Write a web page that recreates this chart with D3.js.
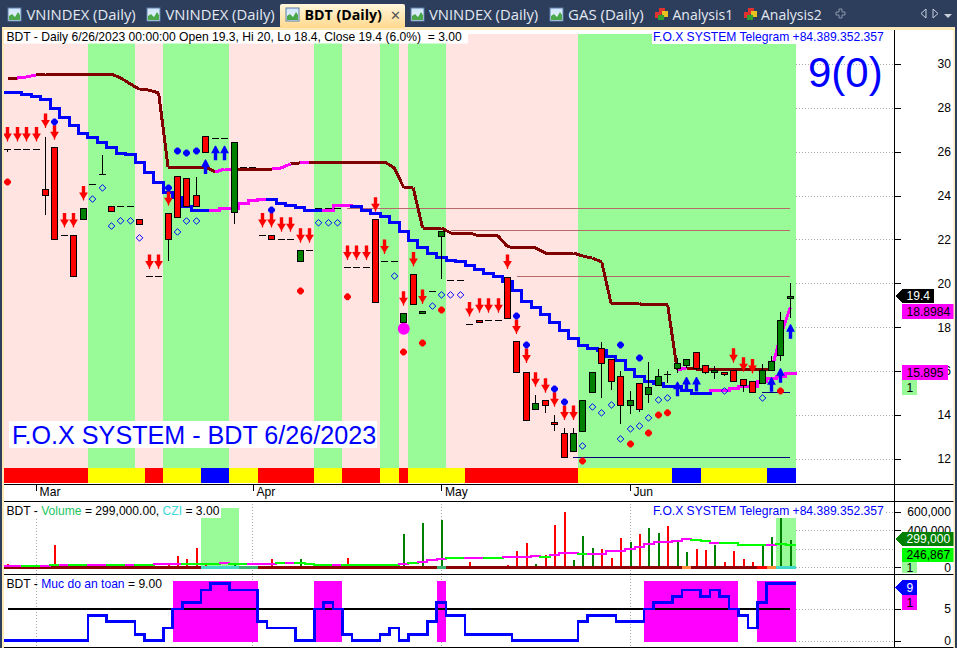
<!DOCTYPE html>
<html>
<head>
<meta charset="utf-8">
<script src="https://cdn.jsdelivr.net/npm/d3@7/dist/d3.min.js"></script>
<style>
html,body{margin:0;padding:0;background:#fff;overflow:hidden}
svg{display:block}
text{font-family:"Liberation Sans",Arial,sans-serif;white-space:pre}
</style>
</head>
<body>
<svg id="c" width="957" height="648"></svg>
<script>
const opens=[26.12,26.12,26.12,26.12,24.28,26.2,22.19,22.19,22.92,24.51,25.0,23.51,23.51,23.51,22.92,20.32,20.32,23.19,24.88,24.79,24.01,26.7,26.61,26.61,23.28,25.29,25.29,22.19,22.19,22.0,22.0,20.98,21.5,23.42,23.42,23.42,20.73,20.73,20.73,22.92,21.0,21.0,18.2,20.41,18.61,19.64,22.19,20.14,20.14,18.13,18.31,18.31,18.31,20.3,17.35,15.94,14.25,14.66,13.66,13.16,12.32,13.23,15.01,17.03,16.53,15.76,14.42,15.44,14.92,15.33,15.86,16.11,16.24,16.85,16.26,15.92,15.94,16.03,15.62,15.53,15.42,16.01,16.7,19.3];
const closes=[26.12,26.12,26.12,26.12,24.01,22.0,22.19,20.32,23.42,24.51,25.0,23.28,23.51,23.51,22.69,20.32,20.32,22.0,23.01,23.51,23.51,25.97,26.61,26.61,26.46,25.29,25.29,22.19,22.0,22.0,22.0,21.5,21.5,23.42,23.42,23.42,20.73,20.73,20.73,19.12,21.0,21.0,18.63,19.02,18.72,19.64,22.4,20.14,20.14,18.13,18.22,18.31,18.31,18.45,15.92,13.75,14.53,14.44,13.57,12.05,13.16,14.66,15.94,16.33,15.51,14.42,14.66,14.24,15.26,15.76,15.85,16.35,16.53,16.11,15.92,16.03,15.85,15.51,15.33,15.01,16.03,16.44,18.31,19.4];
const highs=[26.12,26.12,26.12,26.12,26.68,26.2,22.19,22.19,23.42,24.51,25.85,23.51,23.51,23.51,22.92,20.32,20.32,23.19,24.88,24.79,24.86,26.7,26.61,26.61,26.46,25.29,25.29,22.19,22.19,22.0,22.0,21.5,21.5,23.42,23.42,23.42,20.73,20.73,20.73,22.92,21.0,21.0,18.63,20.41,18.72,19.64,22.4,20.14,20.14,18.13,18.31,18.31,18.31,20.3,17.35,15.94,14.91,14.66,13.99,13.4,13.4,14.66,15.94,17.31,16.53,16.0,15.09,15.44,16.4,16.09,16.0,16.58,16.53,16.85,16.26,16.23,15.94,16.03,15.62,15.53,16.32,16.67,18.68,20.0];
const lows=[26.0,26.12,26.12,26.12,23.11,22.0,22.19,20.32,22.92,24.51,25.0,23.28,23.51,23.51,22.69,20.32,20.32,21.03,23.01,23.51,23.51,25.97,26.61,26.61,22.72,25.29,25.29,22.19,22.0,22.0,22.0,20.98,21.5,23.42,23.42,23.42,20.73,20.73,20.73,19.12,21.0,21.0,18.2,19.02,18.61,19.64,20.18,20.14,20.14,18.13,18.22,18.31,18.31,18.45,15.92,13.75,14.25,14.07,13.28,12.05,12.32,13.23,15.01,14.78,15.13,13.6,14.04,14.15,14.54,15.33,15.44,15.9,16.14,16.05,15.85,15.63,15.78,15.51,15.06,15.01,15.42,16.01,16.47,18.4];
const upperLine=[29.36,29.36,29.41,29.50,29.54,29.54,29.54,29.54,29.54,29.54,29.54,29.54,29.36,29.09,28.84,28.81,28.68,25.30,25.30,25.30,25.30,25.30,25.07,25.21,25.21,25.21,25.21,25.21,25.21,25.26,25.44,25.49,25.53,25.53,25.53,25.53,25.53,25.53,25.53,25.53,25.53,25.26,24.36,24.36,22.52,22.52,22.52,22.29,22.29,22.29,22.16,22.16,22.16,21.67,21.61,21.61,21.61,21.38,21.38,21.38,21.38,21.24,21.15,20.97,19.06,19.06,19.06,19.06,19.01,19.01,19.01,16.05,16.14,16.09,16.09,16.09,16.09,16.09,16.09,16.09,16.09,16.05,17.64,18.8984];
const upperMagenta=[1,2,22,23,28,29,31,71,81,82];
const lowerLine=[28.72,28.72,28.63,28.51,28.36,27.99,27.54,27.19,26.85,26.67,26.40,26.17,25.94,25.86,25.53,25.07,24.59,24.12,23.89,23.48,23.31,23.31,23.31,23.39,23.43,23.62,23.77,23.84,23.81,23.66,23.54,23.45,23.34,23.34,23.34,23.54,23.54,23.49,23.34,23.16,23.04,22.76,22.38,21.97,21.61,21.34,21.17,21.06,20.99,20.79,20.64,20.44,20.30,20.07,19.66,19.16,18.89,18.57,18.19,17.84,17.47,17.14,17.02,16.93,16.68,16.47,16.05,15.77,15.50,15.44,15.28,15.28,15.10,14.97,14.97,15.10,15.10,15.19,15.28,15.28,15.50,15.68,15.74,15.895];
const lowerMagenta=[22,23,24,25,26,27,34,35,36,75,76,77,78,79,80,81,82,83];
const redArrowBars=[0,1,2,3,4,5,6,7,8,15,16,17,27,28,29,30,31,32,36,37,38,39,40,42,43,44,49,50,51,52,53,54,55,56,57,58,59,60,77,78,79];
const redArrowPrices=[26.46,26.46,26.46,26.46,27.08,26.55,22.54,22.54,23.77,20.65,20.65,23.54,22.54,22.54,22.35,22.35,21.85,21.85,21.06,21.06,21.06,23.26,21.34,18.98,20.76,19.06,18.48,18.66,18.66,18.66,20.65,17.69,16.37,15.28,15.01,14.37,13.77,13.77,16.38,15.97,15.88];
const blueArrowBars=[21,22,23,71,72,73,81,82,83];
const blueArrowPrices=[25.65,26.27,26.27,15.51,15.73,15.73,15.71,16.12,18.13];
const redDiamondBars=[0,31,36,42,44,46,61,66,68,69,70,82];
const redDiamondPrices=[24.62,19.65,19.38,16.87,17.28,18.78,11.90,12.67,13.17,13.99,14.09,15.09];
const blueDiamondBars=[5,17,18,19,20,28,54,55,58,59,65,67];
const blueDiamondPrices=[27.36,24.35,26.03,25.94,26.03,23.34,18.51,17.19,15.18,14.59,17.19,16.59];
const hollowBars=[9,10,11,12,13,14,18,19,20,33,34,35,41,45,46,47,48,61,62,63,64,65,66,67,68,69,70,76,80];
const hollowPrices=[23.84,24.35,22.61,22.85,22.85,22.07,22.34,22.84,22.84,22.76,22.76,22.76,20.33,18.96,19.47,19.47,19.47,12.58,14.36,14.09,14.45,12.90,13.36,13.49,13.86,14.68,14.77,15.09,14.77];
const resistanceStart=[36,47,54];
const resistanceLevel=[23.42,22.40,20.32];
const supportStart=[60,80];
const supportLevel=[12.07,15.03];
const circleBar=42, circlePrice=17.93;
const greenBands=[[9,13],[17,23],[33,35],[40,41],[43,46],[61,83]];
const stripRuns=[[0,8,"r"],[9,14,"y"],[15,16,"r"],[17,20,"y"],[21,23,"b"],[24,26,"y"],[27,32,"r"],[33,35,"y"],[36,39,"r"],[40,41,"y"],[42,42,"r"],[43,48,"y"],[49,60,"r"],[61,70,"y"],[71,73,"b"],[74,80,"y"],[81,83,"b"]];
const volumes=[36,8,8,8,8,242,8,8,8,8,8,8,8,8,8,8,8,43,123,87,206,36,8,8,50,8,8,8,87,8,8,87,8,8,8,8,101,8,8,8,8,8,361,8,480,8,513,8,8,57,8,8,8,25,177,264,36,133,459,600,79,339,209,198,101,318,274,361,426,372,448,285,166,198,188,242,57,177,90,57,242,329,535,299];
const volumeUp=[24,31,42,44,46,56,60,61,62,66,68,69,71,72,75,80,81,82,83];
const volumeMA=[17,17,14,14,15,28,28,28,28,28,28,28,28,28,28,28,32,32,32,39,39,39,39,43,39,39,39,39,39,50,50,50,39,28,28,28,28,28,28,28,28,28,36,43,61,75,86,104,104,104,104,104,104,111,111,111,122,115,137,155,155,144,144,144,180,180,199,224,253,271,271,289,310,296,285,267,260,260,246,246,246,246,250,246.867];
const volumeMAMagenta=[0,1,4,6,9,10,13,16,17,18,23,26,27,28,30,35,42,44,45,46,49,50,53,54,55,56,58,59,60,62,63,64,65,66,67,68,69,70,71,72,75,81];
const cziRuns=[[0,20,"#8b0000"],[21,24,"#40d8c8"],[25,26,"#3cb371"],[27,45,"#8b0000"],[46,46,"#3cb371"],[47,71,"#8b0000"],[72,72,"#ff8c3c"],[73,79,"#8b0000"],[80,80,"#ff0000"],[81,81,"#ff8c3c"],[82,83,"#40d8c8"]];
const czHighlights=[[21,24,508],[82,83,518]];
const safety=[0,0,0,0,0,0,0,0,0,4,4,3,3,3,1,0,0,2,5,6,6,8,9,9,8,8,8,3,2,2,2,0,0,5,6,5,1,0,0,0,1,2,0,1,1,3,6,4,4,1,1,1,1,1,0,0,0,0,0,0,0,3,4,4,4,3,3,3,5,6,6,7,8,8,7,8,7,5,4,2,6,9,9,9];
const priceTicks=[12,14,16,18,20,22,24,26,28,30];
const volumeGrid=[0,200000,400000,600000];
const volumeTicks=[0,400000,600000];
const safetyTicks=[0,5];
const monthBars=[3,26,46,66];
const monthLabels=["Mar","Apr","May","Jun"];
const tabLabels=["VNINDEX (Daily)","VNINDEX (Daily)","BDT (Daily)","VNINDEX (Daily)","GAS (Daily)","Analysis1","Analysis2"];

const svg=d3.select("#c");
const x=d3.scaleLinear().domain([0,83]).range([7.8,790.3]);
const y=d3.scaleLinear().domain([30,12]).range([64,458.7]);
const vy=d3.scaleLinear().domain([0,600000]).range([567.3,512]);
const sy=d3.scaleLinear().domain([0,9]).range([640.7,583.6]);
const BLUE="#0000ff",MAG="#ff00ff",DRED="#800000",PG="#98fb98",PINK="#ffe4e1";
const crisp=g=>g.attr("shape-rendering","crispEdges");
const left=i=>Math.max(4,x(i-.5));
const right=i=>i===83?796:x(i+.5);
const cx=i=>Math.floor(x(i))+.5;

svg.append("rect").attr("width",957).attr("height",648).attr("fill","#fff");
const defs=svg.append("defs");
const tg=defs.append("linearGradient").attr("id","tabg").attr("x1",0).attr("x2",0).attr("y1",0).attr("y2",1);
tg.append("stop").attr("offset",0).attr("stop-color","#fff6dc");
tg.append("stop").attr("offset",1).attr("stop-color","#ffd98e");
const ig=defs.append("linearGradient").attr("id","icog").attr("x1",0).attr("x2",0).attr("y1",0).attr("y2",1);
ig.append("stop").attr("offset",0).attr("stop-color","#cfe4fb");
ig.append("stop").attr("offset",1).attr("stop-color","#eef6ff");

// price panel background
const bg=svg.append("g").call(crisp);
bg.append("rect").attr("x",4).attr("y",34).attr("width",792).attr("height",434).attr("fill",PINK);
bg.selectAll("rect.g").data(greenBands).join("rect").attr("class","g")
  .attr("x",d=>left(d[0])).attr("width",d=>right(d[1])-left(d[0])).attr("y",34).attr("height",434).attr("fill",PG);
const stripCol={r:"#ff0000",y:"#ffff00",b:"#0000ff"};
bg.selectAll("rect.s").data(stripRuns).join("rect").attr("class","s")
  .attr("x",d=>left(d[0])).attr("width",d=>right(d[1])-left(d[0])).attr("y",468).attr("height",15).attr("fill",d=>stripCol[d[2]]);

// gridlines
const grid=svg.append("g").attr("stroke","#aaa").attr("stroke-dasharray","1,2").call(crisp);
grid.selectAll("line.p").data(priceTicks).join("line").attr("class","p").attr("x1",796).attr("x2",894).attr("y1",d=>Math.round(y(d))+.5).attr("y2",d=>Math.round(y(d))+.5);
grid.selectAll("line.v2").data(volumeGrid).join("line").attr("class","v2").attr("x1",796).attr("x2",894).attr("y1",d=>Math.round(vy(d))+.5).attr("y2",d=>Math.round(vy(d))+.5);
grid.selectAll("line.s").data(safetyTicks).join("line").attr("class","s").attr("x1",796).attr("x2",894).attr("y1",d=>Math.round(sy(d))+.5).attr("y2",d=>Math.round(sy(d))+.5);
grid.selectAll("line.m").data(monthBars).join("line").attr("class","m").attr("x1",cx).attr("x2",cx).attr("y1",501).attr("y2",647);

// resistance / support
const lv=svg.append("g").call(crisp);
lv.selectAll("line.r").data(resistanceLevel).join("line").attr("class","r")
 .attr("x1",(d,i)=>x(resistanceStart[i])).attr("x2",x(83)).attr("y1",d=>y(d)).attr("y2",d=>y(d)).attr("stroke","#b86a6a");
lv.selectAll("line.n").data(supportLevel).join("line").attr("class","n")
 .attr("x1",(d,i)=>x(supportStart[i])).attr("x2",x(83)).attr("y1",d=>y(d)).attr("y2",d=>y(d)).attr("stroke","#000080");

// overlay lines
const lin=d3.line().x(d=>x(d[0])).y(d=>d[2](d[1]));
function stepSeries(parent,vals,colorOf,scale,w){
  const g=parent.append("g").attr("fill","none").attr("stroke-width",w).attr("stroke-linecap","square").call(crisp);
  vals.forEach((v,i)=>{
    const pts=[[i-.5,v,scale],[i+.5,v,scale]];
    if(i<vals.length-1)pts.push([i+.5,vals[i+1],scale]);
    g.append("path").attr("d",lin(pts)).attr("stroke",colorOf(i));
  });
}
const upG=svg.append("g").attr("fill","none").attr("stroke-width",3).call(crisp);
upperLine.forEach((v,i)=>{
  if(i===83)return;
  upG.append("path").attr("d",lin([[i,v,y],[i+1,upperLine[i+1],y]])).attr("stroke",upperMagenta.includes(i)?MAG:DRED);
});
stepSeries(svg,lowerLine,i=>lowerMagenta.includes(i)?MAG:BLUE,y,3);

// candles
const cg=svg.append("g").call(crisp);
d3.range(opens.length).forEach(i=>{
  const X=Math.floor(x(i));
  const top=Math.max(opens[i],closes[i]),bot=Math.min(opens[i],closes[i]);
  if(highs[i]>lows[i]) cg.append("line").attr("x1",X+.5).attr("x2",X+.5).attr("y1",y(highs[i])).attr("y2",y(lows[i])).attr("stroke","#000");
  const h=y(bot)-y(top);
  if(h<1){
    cg.append("line").attr("x1",X-3).attr("x2",X+4).attr("y1",Math.round(y(top))+.5).attr("y2",Math.round(y(top))+.5).attr("stroke","#000");
  }else{
    cg.append("rect").attr("x",X-2.5).attr("width",6).attr("y",Math.round(y(top))+.5).attr("height",Math.round(h))
      .attr("fill",closes[i]>opens[i]?"#008000":"#ff0000").attr("stroke","#000");
  }
});

// markers
const mk=svg.append("g");
const arrowDown=(X,Y)=>`M${X-1.7},${Y-14.5}L${X+1.7},${Y-14.5}L${X+1.7},${Y-8}L${X+4.4},${Y-8}L${X+.8},${Y-2}L${X+.5},${Y}L${X-.5},${Y}L${X-.8},${Y-2}L${X-4.4},${Y-8}L${X-1.7},${Y-8}Z`;
const arrowUp=(X,Y)=>`M${X-1.7},${Y+14.5}L${X+1.7},${Y+14.5}L${X+1.7},${Y+7.5}L${X+4.4},${Y+7.5}L${X+.5},${Y}L${X-.5},${Y}L${X-4.4},${Y+7.5}L${X-1.7},${Y+7.5}Z`;
const blob=(X,Y,r)=>{const s=r*.28;return `M${X-s},${Y-r}L${X+s},${Y-r}L${X+r},${Y-s}L${X+r},${Y+s}L${X+s},${Y+r}L${X-s},${Y+r}L${X-r},${Y+s}L${X-r},${Y-s}Z`;};
const dia=(X,Y,r)=>`M${X},${Y-r}L${X+r},${Y}L${X},${Y+r}L${X-r},${Y}Z`;
mk.selectAll("path.ra").data(redArrowBars).join("path").attr("class","ra")
  .attr("d",(d,i)=>arrowDown(cx(d),y(redArrowPrices[i]))).attr("fill","#ff0000");
mk.selectAll("path.ba").data(blueArrowBars).join("path").attr("class","ba")
  .attr("d",(d,i)=>arrowUp(cx(d),y(blueArrowPrices[i]))).attr("fill",BLUE);
mk.selectAll("path.rd").data(redDiamondBars).join("path").attr("class","rd")
  .attr("d",(d,i)=>blob(cx(d),y(redDiamondPrices[i]),3.5)).attr("fill","#ff0000");
mk.selectAll("path.bd").data(blueDiamondBars).join("path").attr("class","bd")
  .attr("d",(d,i)=>blob(cx(d),y(blueDiamondPrices[i]),3.5)).attr("fill",BLUE);
mk.selectAll("path.hd").data(hollowBars).join("path").attr("class","hd")
  .attr("d",(d,i)=>dia(cx(d),y(hollowPrices[i]),3.3)).attr("fill","none").attr("stroke",BLUE).attr("stroke-width",1);
mk.append("circle").attr("cx",x(circleBar)).attr("cy",y(circlePrice)).attr("r",6).attr("fill",MAG);

// volume panel
const vp=svg.append("g").call(crisp);
vp.selectAll("rect.h").data(czHighlights).join("rect").attr("class","h")
 .attr("x",d=>left(d[0])).attr("width",d=>right(d[1])-left(d[0])).attr("y",d=>d[2]).attr("height",d=>566-d[2]).attr("fill",PG);
vp.selectAll("rect.vb").data(volumes).join("rect").attr("class","vb")
 .attr("x",(d,i)=>cx(i)-.5).attr("width",2).attr("y",d=>vy(d*1000)).attr("height",d=>vy(0)-vy(d*1000))
 .attr("fill",(d,i)=>volumeUp.includes(i)?"#008000":"#ff0000");
vp.selectAll("rect.cz").data(cziRuns).join("rect").attr("class","cz")
 .attr("x",d=>left(d[0])).attr("width",d=>right(d[1])-left(d[0])).attr("y",566).attr("height",3.4).attr("fill",d=>d[2]);
stepSeries(vp,volumeMA.map(d=>d*1000),i=>volumeMAMagenta.includes(i)?MAG:"#00ff00",vy,2);

// safety panel
const sp=svg.append("g").call(crisp);
sp.selectAll("rect").data(safety).join("rect").attr("x",(d,i)=>left(i)).attr("width",(d,i)=>right(i)-left(i)).attr("y",581).attr("height",60.7)
 .attr("fill",MAG).attr("opacity",d=>d>=5?1:0);
sp.append("line").attr("x1",x(0)).attr("x2",x(83)).attr("y1",sy(5)).attr("y2",sy(5)).attr("stroke","#000").attr("stroke-width",2);
stepSeries(sp,safety,()=>BLUE,sy,2.6);

// texts on panels
function rt(s,X,Y,o={}){
  const t=svg.append("text").attr("x",X).attr("y",Y).attr("font-size",o.size||12.1).attr("fill",o.fill||"#000").text(s);
  if(o.anchor)t.attr("text-anchor",o.anchor);
  return t;
}
svg.append("rect").attr("x",4).attr("y",30).attr("width",464).attr("height",13.5).attr("fill","#fff");
rt("BDT - Daily 6/26/2023 00:00:00 Open 19.3, Hi 20, Lo 18.4, Close 19.4 (6.0%)  = 3.00",6.5,40.5);
svg.append("rect").attr("x",652).attr("y",30).attr("width",233).attr("height",14).attr("fill","#fff");
rt("F.O.X SYSTEM Telegram +84.389.352.357",653,40.5,{fill:BLUE});
rt("9(0)",808,87,{fill:BLUE,size:42});
svg.append("rect").attr("x",9).attr("y",421).attr("width",368).attr("height",27).attr("fill","#fff");
rt("F.O.X SYSTEM - BDT 6/26/2023",12,444,{fill:BLUE,size:25.15});

svg.append("rect").attr("x",5).attr("y",503).attr("width",216).attr("height",15).attr("fill","#fff");
const vt=rt("",6.5,515);
vt.append("tspan").text("BDT - ");
vt.append("tspan").attr("fill","#22c55e").text("Volume");
vt.append("tspan").text(" = 299,000.00, ");
vt.append("tspan").attr("fill","#40d8d8").text("CZI");
vt.append("tspan").text(" = 3.00");
svg.append("rect").attr("x",652).attr("y",503).attr("width",233).attr("height",14).attr("fill","#fff");
rt("F.O.X SYSTEM Telegram +84.389.352.357",653,514.5,{fill:BLUE});
const st=rt("",6.5,588);
st.append("tspan").text("BDT - ");
st.append("tspan").attr("fill",BLUE).text("Muc do an toan");
st.append("tspan").text(" = 9.00");

// frames
const frames=svg.append("g").call(crisp);
[484,501,574,647].forEach(Y=>frames.append("line").attr("x1",4).attr("x2",954).attr("y1",Y+.5).attr("y2",Y+.5).attr("stroke","#000"));
frames.append("line").attr("x1",894.5).attr("x2",894.5).attr("y1",30).attr("y2",648).attr("stroke","#000").attr("stroke-width",1.5);
const mAxis=d3.axisBottom(x).tickValues(monthBars).tickSize(6).tickFormat((d,i)=>monthLabels[i]);
const mg=svg.append("g").attr("transform","translate(0,484.5)").call(mAxis);
mg.select(".domain").remove();
mg.selectAll("text").attr("text-anchor","start").attr("x",3).attr("y",3).attr("dy","0.71em").attr("font-size",12.1).attr("font-family","Liberation Sans").attr("fill","#000");
mg.selectAll("line").attr("stroke","#000").attr("shape-rendering","crispEdges");

// right axes
function rightAxis(scale,ticks,fmt){
  const g=svg.append("g").attr("transform","translate(894.5,0)").call(d3.axisRight(scale).tickValues(ticks).tickSize(6).tickFormat(fmt));
  g.select(".domain").remove();
  g.selectAll("line").attr("stroke","#000").attr("shape-rendering","crispEdges");
  g.selectAll("text").attr("text-anchor","end").attr("x",56.5).attr("font-size",12.1).attr("font-family","Liberation Sans").attr("fill","#000");
}
rightAxis(y,priceTicks,d3.format("d"));
rightAxis(vy,volumeTicks,d3.format(","));
rightAxis(sy,safetyTicks,d3.format("d"));

// value tags
function tag(s,x0,x1,y0,y1,fill,tc,pointer){
  const p=pointer?`M895,${(y0+y1)/2}L902,${y0}L${x1},${y0}L${x1},${y1}L902,${y1}Z`:`M${x0},${y0}L${x1},${y0}L${x1},${y1}L${x0},${y1}Z`;
  svg.append("path").attr("d",p).attr("fill",fill).attr("shape-rendering","crispEdges");
  rt(s,x0+4.5,(y0+y1)/2+4.3,{fill:tc});
}
tag("19.4",902,934,289,303,"#000","#fff",true);
tag("18.8984",902,955,304,319,MAG,"#000");
tag("15.895",902,948,365,380,MAG,"#000");
tag("1",902,917,380,395,PG,"#000");
tag("299,000",902,955,532,546,"#008000","#fff",true);
tag("246,867",902,955,548,562,"#00ff00","#000");
tag("1",902,917,562,573,PG,"#000");
tag("9",902,917,580,595,BLUE,"#fff",true);
tag("1",902,917,595,610,MAG,"#000");

// window border
svg.append("rect").attr("x",0).attr("y",0).attr("width",957).attr("height",28).attr("fill","#2d3e5c");
svg.append("rect").attr("x",0).attr("y",27).attr("width",957).attr("height",3).attr("fill","#fde9b8");
svg.append("rect").attr("x",0).attr("y",27).attr("width",2).attr("height",621).attr("fill","#2d3e5c");
svg.append("rect").attr("x",2).attr("y",30).attr("width",2).attr("height",618).attr("fill","#fde9b8");
svg.append("rect").attr("x",955).attr("y",27).attr("width",2).attr("height",621).attr("fill","#2d3e5c");
svg.append("rect").attr("x",953.5).attr("y",30).attr("width",1.5).attr("height",618).attr("fill","#fde9b8");

// tabs
svg.append("rect").attr("x",280).attr("y",4).attr("width",125).attr("height",24).attr("rx",2).attr("fill","url(#tabg)");
const tabIconX=[8,147,286,411,550];
const tabTextX=[26.5,165.5,304.5,429,568];
const tabSize=[14.8,14.8,14.2,14.8,15];
function chartIcon(X){
  svg.append("rect").attr("x",X).attr("y",8).attr("width",13).attr("height",13).attr("fill","url(#icog)").attr("stroke","#5a7fa8");
  svg.append("path").attr("d",`M${X+1},20L${X+1},16L${X+4},14L${X+7},17L${X+10},12L${X+12},15L${X+12},20Z`).attr("fill","#4aa84a");
}
tabIconX.forEach(chartIcon);
tabLabels.slice(0,5).forEach((s,i)=>{
  svg.append("text").attr("x",tabTextX[i]).attr("y",20).attr("font-size",tabSize[i]).attr("style","font-family:'Open Sans'")
   .attr("font-weight",i===2?700:400).attr("fill",i===2?"#000":"#e4e9f2").text(s);
});
svg.append("text").attr("x",390).attr("y",20).attr("font-size",13).attr("fill","#555").attr("style","font-family:'Open Sans'").text("✕");
[654,743].forEach(X=>{
  svg.append("rect").attr("x",X+5).attr("y",8).attr("width",6).attr("height",6).attr("fill","#e03030");
  svg.append("rect").attr("x",X+1).attr("y",12).attr("width",6).attr("height",6).attr("fill","#e03030");
  svg.append("rect").attr("x",X+8).attr("y",11).attr("width",6).attr("height",6).attr("fill","#e8c020");
  svg.append("rect").attr("x",X+4).attr("y",15).attr("width",6).attr("height",5).attr("fill","#30a030");
});
svg.append("text").attr("x",672.5).attr("y",20).attr("font-size",14).attr("style","font-family:'Open Sans'").attr("fill","#e4e9f2").text(tabLabels[5]);
svg.append("text").attr("x",761).attr("y",20).attr("font-size",14).attr("style","font-family:'Open Sans'").attr("fill","#e4e9f2").text(tabLabels[6]);
svg.append("path").attr("d","M836,12h3v-3h3v3h3v3h-3v3h-3v-3h-3Z").attr("fill","none").attr("stroke","#8a96aa");
svg.append("path").attr("d","M926,9L921,13.5L926,18Z").attr("fill","none").attr("stroke","#c8d0de");
svg.append("path").attr("d","M933,9L938,13.5L933,18Z").attr("fill","none").attr("stroke","#c8d0de");
svg.append("path").attr("d","M944,14L952,14L948,18Z").attr("fill","#c8d0de");
</script>
</body>
</html>
